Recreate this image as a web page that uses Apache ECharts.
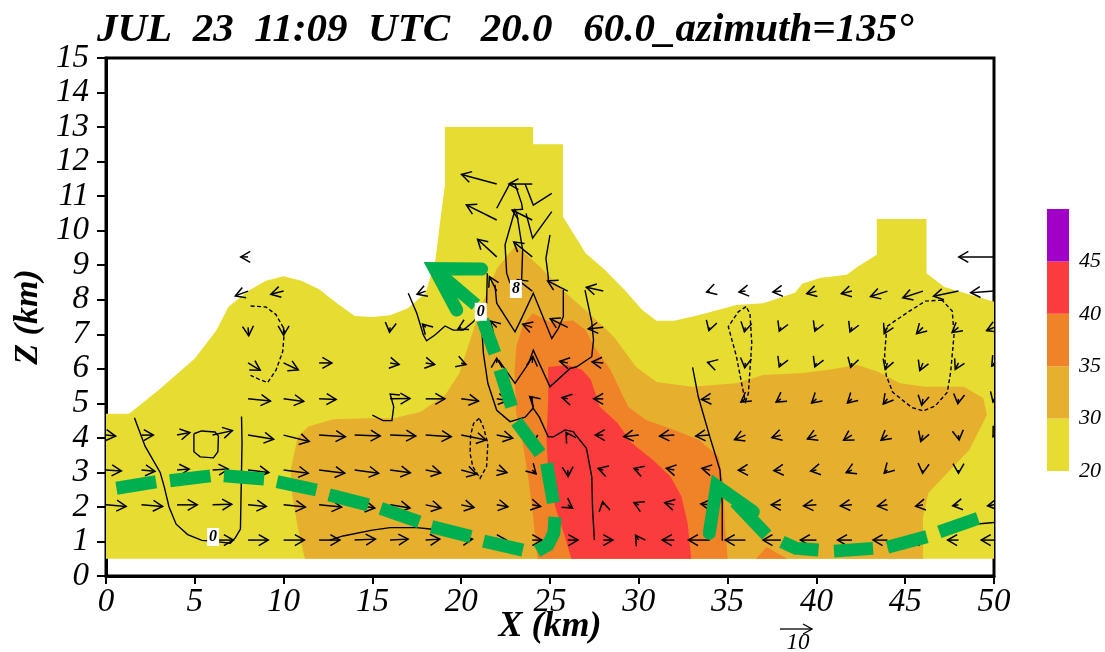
<!DOCTYPE html>
<html><head><meta charset="utf-8">
<style>html,body{margin:0;padding:0;background:#fff}#c{width:1105px;height:652px}</style>
<script src="https://cdn.jsdelivr.net/npm/echarts@6/dist/echarts.min.js"></script>
</head><body><div id="c"></div>
<script>
const titleText = 'JUL  23  11:09  UTC   20.0   60.0_azimuth=135°';
const xTicksMax = 50, zTicksMax = 15;
const legendLabels = ['20','30','35','40','45',''];
const legendColors = ['#e6dc32','#e6af2d','#f08228','#fa3c3c','#a000c8'];

// Reflectivity regions, [x km, z km]
const dbz20 = [[0,.5],[0,4.7],[1.3,4.7],[3,5.4],[5,6.3],[6.2,7.1],[6.9,7.8],[8,8.25],[9,8.55],[10,8.68],[11,8.55],[12,8.3],[13,7.9],[14,7.53],[15,7.5],[16,7.55],[17,7.75],[18,8.2],[18.55,9.15],[18.75,10],[18.95,10.8],[19.08,11.3],[19.08,13],[24.05,13],[24.05,12.5],[25.73,12.5],[25.73,10.4],[27,9.35],[28.1,8.86],[29.2,8.28],[30.2,7.7],[31,7.39],[32,7.39],[33.4,7.56],[35.5,7.85],[37,7.9],[38.8,8.2],[39.2,8.46],[40.2,8.63],[41.7,8.72],[42.3,8.95],[43.4,9.3],[43.4,10.34],[46.2,10.34],[46.2,8.77],[47.2,8.37],[48.3,8.2],[50,7.94],[50,.5]];
const dbz30 = [[11.2,.5],[10.8,1.4],[10.5,2.3],[10.4,3.07],[10.8,4.03],[11.4,4.33],[12.8,4.54],[14.8,4.57],[16.2,4.57],[17.7,4.75],[19.1,5.24],[19.9,5.87],[20.5,6.83],[21.2,7.9],[22,8.9],[23.07,9.58],[24.45,8.95],[25.7,8.28],[27.2,7.6],[28.2,7.12],[28.6,6.92],[29.85,6.05],[31,5.62],[33,5.48],[35.5,5.58],[37,5.82],[39.1,5.87],[40.7,5.97],[42.3,6.11],[43.5,5.91],[44.7,5.58],[46.1,5.48],[48.3,5.48],[49.4,5.15],[49.6,4.66],[48.6,3.65],[47.7,3.16],[46.3,2.4],[46,1.7],[46,.5]];
const dbz35 = [[24.3,.5],[24.05,1.7],[23.8,2.78],[23.5,3.74],[23.1,4.71],[23,5.87],[23.1,6.64],[23.5,7.3],[24.05,7.6],[25,7.35],[26.3,7.4],[27,7.12],[27.5,6.64],[28.4,5.97],[29.4,4.9],[30.4,4.52],[32,4.23],[33.4,3.94],[34.5,3.45],[34.75,2.69],[34.85,1.53],[35,.5]];
const dbz35b = [[36.6,.5],[37.2,.84],[38.35,.5]];
const dbz40 = [[26.2,.5],[25.8,1.2],[25.3,2],[24.9,3],[24.8,4],[24.9,5.1],[24.9,6.05],[26,6.11],[26.8,5.97],[27.3,5.68],[27.8,4.9],[28.8,4.43],[29.6,3.85],[30.8,3.36],[31.8,2.87],[32.4,2.3],[32.75,1.53],[32.95,.5]];

// Wind vectors by height row, each entry [x km, u m/s, w m/s]
const rowHeights = [1.04,2.06,3.07,4.08,5.13,6.17,7.2,8.25,9.24,10.31,11.35];
const wind1 = [[6,6.5,0],[8,6.3,0],[10,6.5,0],[12,6.5,0],[14,6.5,.3],[16,5.6,.3],[18,4.4,.3],[20,3.5,.3],[22,3,0],[24,3,0],[26,3.2,0],[28,3,0],[30,-1,1.5],[32,-3.8,0],[34,-6.7,0],[36,-6.3,0],[38,-5.6,0],[40,-5,0],[42,-4.5,0],[44,-4.5,0],[46,-4,0],[48,-3.4,0],[50,-4,0]];
const wind2 = [[0,6.3,-.5],[2,6.6,-.5],[4,6.3,0],[6,6,.2],[8,5.7,-.5],[10,6.8,-.7],[12,7,-.7],[14,6.3,-1],[16,6.2,-1],[18,4.8,-1],[20,4,-.8],[22,3.5,-.6],[24,2.6,-.5],[26,1.5,-1],[28,-.2,1],[30,-1.5,.7],[32,-3,.7],[34,-2.8,.3],[36,-3,0],[38,-3,0],[40,-4,-.3],[42,-3.6,-.3],[44,-3.1,-.4],[46,-2.3,-.4],[48,-1.8,-.3],[50,-2,-.3]];
const wind3 = [[0,4.8,-.3],[2,4.2,-.4],[4,3.8,.3],[6,4.9,.3],[8,6.5,-.8],[10,7.7,-1],[12,8,-1],[14,7.5,-1],[16,6.3,-.9],[18,4.7,-.9],[20,4.8,-1.3],[22,3.2,-.8],[24,1.2,-1.2],[26,.1,-2],[28,-1.6,.5],[30,-1.5,.5],[32,-2.5,.5],[34,-2.5,.5],[36,-2.2,-.1],[38,-2.2,-.2],[40,-1.8,-.3],[42,-1.8,-.8],[44,-1,-1],[46,-.1,-1],[48,0,-1]];
const wind4 = [[0,3,-.3],[2,3.7,0],[4,4,.8],[6,6.2,1.4],[8,8,-1.3],[10,8,-2],[12,8.2,-.5],[14,8,-.3],[16,8,-.3],[18,8,-.5],[20,7.8,-1.5],[22,5,-1],[24,.2,-3],[26,-.5,.8],[28,-2.5,0],[30,-4.7,-.5],[32,-4.6,-.3],[34,-4.4,-.3],[36,-3.4,-1.4],[38,-2.8,-.8],[40,-2.8,-1.2],[42,-2.6,-1.6],[44,-2,-1.6],[46,-.7,-2],[48,.2,-1.5],[50,-.3,-.5]];
const wind5 = [[8,7,-.7],[10,6.3,-.8],[12,5.3,-.2],[16,6.2,.1],[18,6,0],[20,5.4,-.7],[22,3.5,-.5],[24,-.8,.7],[26,-1.8,.4],[28,-3,0],[34,-2.6,-.2],[36,-1.4,-1],[38,-1.5,-1],[40,-1.5,-1.3],[42,-1.4,-1.3],[44,-1.3,-1.6],[46,-.4,-2],[48,-.2,-1.5],[50,-.3,-1]];
const wind6 = [[8,3.8,-2.3],[10,4.6,-2.2],[12,4,0],[16,2.8,-.5],[18,2.8,-.5],[20,1.5,-.5],[22,0,1.5],[24,.2,2],[26,-2.5,.5],[28,-3.5,.3],[34,-.7,.2],[36,-.2,-1.5],[38,-.5,-1.2],[40,-.5,-1.2],[42,-.4,-1.4],[44,-.7,-2],[46,-1,-2.4],[48,-1,-2],[50,-.7,-1]];
const wind7 = [[8,.2,-2.6],[10,0,-2.5],[16,-.2,-1.5],[18,-1,1],[20,-1,-.5],[22,-2,2],[24,-3,1],[26,-5.5,2.7],[28,-4.7,-.5],[34,-.3,-1],[36,-.3,-1.4],[38,-.5,-1.2],[40,-.5,-1.2],[42,-.6,-1.4],[44,-1,-2],[46,-2,-2],[48,-2,-1.6],[50,-2.3,-1]];
const wind8 = [[8,-4,-1.5],[10,-4,-1],[18,-2.7,-1],[22,-2.3,4.5],[24,-4.6,3.6],[26,-6.3,3.2],[28,-5.3,1.2],[34,-1,-.3],[36,-2,-.3],[38,-2.5,-.3],[40,-3,-.8],[42,-3.3,-.8],[44,-5.3,-1.7],[46,-6.3,-2.1],[48,-7.8,-1.6],[50,-7.3,-.5]];
const wind9 = [[8,-2.3,0],[22,-6,5.5],[24,-5.8,4.7],[50,-11,0]];
const wind10 = [[22,-9.5,4.7],[24,-6.3,3.1]];
const wind11 = [[22,-11,3],[24,-7.3,0]];
const windRows = [wind1,wind2,wind3,wind4,wind5,wind6,wind7,wind8,wind9,wind10,wind11];

// Contours
const contourA = [[1.6,4.58],[2.2,3.76],[3.05,3],[3.28,2.58],[3.55,2],[3.95,1.5],[4.6,1.2],[5.4,1.03],[5.95,1.01],[7,.95],[7.27,1.1],[7.57,1.36],[7.6,2.23],[7.66,3.85],[7.63,4.62]];
const contourB = [[4.95,4.12],[5.38,4.2],[6.14,4.17],[6.33,4.05],[6.3,3.6],[6.05,3.42],[5.3,3.45],[4.95,3.6],[4.95,4.12]];
const contourC = [[12.6,1.04],[13.35,1.16],[15,1.33],[16,1.4],[17.5,1.4],[18.25,1.36],[19.5,1.15]];
const contourE = [[15,4.66],[15.6,4.5],[16.1,4.5],[16.2,4.9],[16,5.27],[16.55,5.24]];
const contourG = [[21.47,8.77],[21.43,7.9],[21.1,7.65],[21.25,6.45],[21.5,5.58],[22,4.8],[22.75,4.47],[23.6,4.6],[24.05,4.86],[24.4,4.6],[24.9,4.03],[25.2,4.03],[25.85,4.23],[26.3,4.18],[27.05,3.7],[27.35,2.88],[27.4,1.91],[27.5,1.04]];
const contourG2 = [[24.05,4.86],[23.97,5.21]];
const contourH = [[22.1,6.26],[23.03,5.58],[23.8,6.16],[24.06,6.54],[25,5.48],[26.13,6.01],[26.5,6.06],[27.35,6.35],[27.45,6.83],[27.35,7.36],[26.97,8.28]];
const contourI = [[21.9,8.43],[22,7.9],[23.03,7.07],[23.4,7.46],[24.06,8.19],[25.1,6.88],[25.47,7.17],[25.75,7.51],[25.75,8.28]];
const contourK = [[22.75,8.48],[22.56,8.77],[22.47,9.59],[23.03,10.6],[23.13,10.5],[23.46,9.44],[23.4,8.52]];
const contourL = [[22,10.65],[22.75,11.37],[23.03,11.35],[23.4,10.79],[23.46,10.6]];
const contourM = [[23.6,11.35],[24.06,10.74],[25.1,11.08]];
const contourN = [[23.65,10.5],[24.02,9.78],[25.1,10.55]];
const contourO = [[25,9.88],[24.77,9.2],[24.9,8.67],[24.9,8.57]];
const contourQ = [[17.02,8.19],[17.5,7.61],[17.87,6.98],[18.05,6.81],[18.52,6.98],[19.09,7.24],[19.55,7.12],[20.12,7.12],[20.68,7.36],[21.1,7.65]];
const contourS = [[33.03,6.04],[33.35,5.19],[34,4.03],[34.57,3.07],[34.7,2.1],[34.7,1.02]];
const contourV = [[48.9,1.5],[50,1.55]];
const solidContours = [contourA,contourB,contourC,contourE,contourG,contourG2,contourH,contourI,contourK,contourL,contourM,contourN,contourO,contourQ,contourS,contourV];
const contourD = [[8.14,7.82],[9,7.79],[9.57,7.57],[10.05,7.13],[9.95,6.5],[9.57,5.96],[9.1,5.6],[8.6,5.7],[8.14,5.81]];
const contourF = [[21.02,4.57],[20.7,4.42],[20.53,4.08],[20.5,3.55],[20.65,3.17],[21.06,2.83],[21.43,3.17],[21.5,3.84],[21.24,4.32],[21.02,4.57]];
const contourT = [[36.04,7.8],[35.6,7.65],[35.04,7.22],[35.5,6.35],[35.9,5.29],[36,5.05],[36.17,5.29],[36.36,6.74],[36.26,7.6],[36.04,7.8]];
const contourU = [[47.07,7.99],[46.13,7.96],[45.18,7.65],[43.84,7.18],[43.93,6.98],[43.84,6.4],[43.93,5.81],[44.3,5.32],[45.37,4.88],[46.03,4.78],[46.7,4.93],[47.37,5.32],[47.56,5.91],[47.75,6.98],[47.65,7.67],[47.07,7.99]];
const dashedContours = [contourD,contourF,contourT,contourU];
const contourLabels = [[6.03,1.13,'0'],[21.1,7.65,'0'],[23.08,8.31,'8']];

// Hand-drawn green annotation
const greenDashes = [
 [[.59,2.54],[2.82,2.73]],[[3.6,2.76],[5.88,2.9]],[[6.64,2.9],[8.9,2.81]],[[9.63,2.73],[11.85,2.49]],
 [[12.56,2.35],[14.77,2.06]],[[15.47,1.96],[17.64,1.57]],[[18.33,1.43],[20.55,1.14]],[[21.26,1.01],[23.47,.75]],
 [[24.27,.72],[24.89,.9],[25.22,1.25],[25.28,1.71]],[[25.19,2.12],[25,2.68],[24.81,3.26]],[[24.44,3.55],[23.12,4.47]],
 [[22.84,4.9],[22.18,5.97]],[[21.9,6.45],[21.21,7.41]],
 [[19,8.65],[20.83,7.85]],[[35.42,2.15],[37.2,1.19]],
 [[38.06,.99],[38.87,.8],[40.12,.75]],[[40.99,.72],[43.19,.8]],[[44,.83],[46.22,1.14]],[[46.92,1.28],[49.1,1.67]]
];
const greenHeads = [
 [[21.15,8.89],[18.5,8.9],[19.75,7.7]],
 [[33.97,1.24],[34.38,2.61],[36.45,1.86]]
];

const reflectivity = [[dbz20,legendColors[0]],[dbz30,legendColors[1]],[dbz35,legendColors[2]],[dbz35b,legendColors[2]],[dbz40,legendColors[3]]];
const windPoints = [];
windRows.forEach((row,i)=>row.forEach(v=>windPoints.push([v[0],rowHeights[i],v[1],v[2]])));

const PX_PER_MS = 3.2, BARB = 11, BARB_ANGLE = 30*Math.PI/180;
const serif = '"Liberation Serif"';

function linesSeries(list, stylefn, z){
  return {type:'custom',coordinateSystem:'cartesian2d',xAxisIndex:0,yAxisIndex:0,z,silent:true,clip:true,
    data:list.map((_,i)=>[i]),
    renderItem:(p,api)=>({type:'polyline',shape:{points:list[p.dataIndex].map(q=>api.coord(q))},style:stylefn(p.dataIndex)})};
}
const bars = legendColors.map(c=>({type:'bar',stack:'bar',xAxisIndex:1,yAxisIndex:1,barWidth:'100%',data:[1],itemStyle:{color:c},silent:true}));

const option = {
  animation:false,
  backgroundColor:'#fff',
  title:{text:titleText,left:92,top:5,textStyle:{fontFamily:serif,fontStyle:'italic',fontWeight:'bold',fontSize:41,color:'#000'}},
  grid:[{left:106,right:111,top:58,bottom:76,show:true,borderColor:'#000',borderWidth:3,backgroundColor:'#fff',z:0,outerBoundsMode:'none'},
        {left:1047,top:209,width:22,height:262,outerBoundsMode:'none'}],
  xAxis:[{type:'value',gridIndex:0,min:0,max:xTicksMax,interval:5,splitLine:{show:false},
      axisLine:{show:true,onZero:false,lineStyle:{color:'#000',width:3}},
      axisTick:{show:true,length:8,lineStyle:{color:'#000',width:2}},
      axisLabel:{margin:10,fontFamily:serif,fontStyle:'italic',fontSize:33,color:'#000',hideOverlap:false,showMinLabel:true,showMaxLabel:true},
      name:'X (km)',nameLocation:'middle',nameGap:33,nameMoveOverlap:false,
      nameTextStyle:{fontFamily:serif,fontStyle:'italic',fontWeight:'bold',fontSize:36,color:'#000'}},
    {type:'category',gridIndex:1,data:[''],show:false}],
  yAxis:[{type:'value',gridIndex:0,min:0,max:zTicksMax,interval:1,splitLine:{show:false},
      axisLine:{show:true,onZero:false,lineStyle:{color:'#000',width:3}},
      axisTick:{show:true,length:9,lineStyle:{color:'#000',width:2}},
      axisLabel:{margin:17,fontFamily:serif,fontStyle:'italic',fontSize:33,color:'#000',showMinLabel:true,showMaxLabel:true},
      name:'Z (km)',nameLocation:'middle',nameGap:61,nameRotate:90,nameMoveOverlap:false,
      nameTextStyle:{fontFamily:serif,fontStyle:'italic',fontWeight:'bold',fontSize:34,color:'#000'}},
    {type:'value',gridIndex:1,min:0,max:5,interval:1,position:'right',splitLine:{show:false},axisLine:{show:false},axisTick:{show:false},
      axisLabel:{margin:10,fontFamily:serif,fontStyle:'italic',fontSize:22,color:'#000',formatter:(v)=>legendLabels[v]}}],
  series:[
    {type:'custom',coordinateSystem:'cartesian2d',xAxisIndex:0,yAxisIndex:0,z:1,silent:true,
      data:reflectivity.map((_,i)=>[i]),
      renderItem:(p,api)=>({type:'polygon',shape:{points:reflectivity[p.dataIndex][0].map(q=>api.coord(q))},style:{fill:reflectivity[p.dataIndex][1],stroke:null}})},
    linesSeries(solidContours,()=>({fill:null,stroke:'#000',lineWidth:1.4}),2),
    linesSeries(dashedContours,()=>({fill:null,stroke:'#000',lineWidth:1.4,lineDash:[4,2.5]}),2),
    {type:'custom',coordinateSystem:'cartesian2d',xAxisIndex:0,yAxisIndex:0,z:3,silent:true,clip:true,
      data:windPoints,
      renderItem:(p,api)=>{
        const t=api.coord([api.value(0),api.value(1)]), u=api.value(2), w=api.value(3);
        const h=[t[0]+u*PX_PER_MS,t[1]-w*PX_PER_MS];
        const a=Math.atan2(h[1]-t[1],h[0]-t[0]);
        const b1=[h[0]-BARB*Math.cos(a-BARB_ANGLE),h[1]-BARB*Math.sin(a-BARB_ANGLE)];
        const b2=[h[0]-BARB*Math.cos(a+BARB_ANGLE),h[1]-BARB*Math.sin(a+BARB_ANGLE)];
        const s={fill:null,stroke:'#000',lineWidth:1.5};
        return {type:'group',children:[
          {type:'polyline',shape:{points:[t,h]},style:s},
          {type:'polyline',shape:{points:[b1,h,b2]},style:s}]};
      }},
    linesSeries(greenDashes,()=>({fill:null,stroke:'#00b050',lineWidth:13,lineCap:'butt',lineJoin:'round'}),4),
    linesSeries(greenHeads,()=>({fill:null,stroke:'#00b050',lineWidth:13,lineCap:'round',lineJoin:'miter',miterLimit:10}),4),
    {type:'custom',coordinateSystem:'cartesian2d',xAxisIndex:0,yAxisIndex:0,z:5,silent:true,
      data:contourLabels,
      renderItem:(p,api)=>{
        const c=api.coord([contourLabels[p.dataIndex][0],contourLabels[p.dataIndex][1]]);
        return {type:'group',children:[
          {type:'rect',shape:{x:c[0]-6,y:c[1]-9,width:12,height:18},style:{fill:'#fff'}},
          {type:'text',x:c[0],y:c[1],style:{text:contourLabels[p.dataIndex][2],align:'center',verticalAlign:'middle',fontFamily:serif,fontStyle:'italic',fontWeight:'bold',fontSize:16,fill:'#000'}}]};
      }},
    ...bars
  ],
  graphic:[
    {type:'polyline',shape:{points:[[780,629],[812,629]]},style:{stroke:'#000',lineWidth:1.3,fill:null},silent:true},
    {type:'polyline',shape:{points:[[803,624],[812,629],[803,634]]},style:{stroke:'#000',lineWidth:1.3,fill:null},silent:true},
    {type:'text',x:798,y:643,style:{text:'10',align:'center',verticalAlign:'middle',fontFamily:serif,fontStyle:'italic',fontSize:23,fill:'#000'},silent:true}
  ]
};
echarts.init(document.getElementById('c')).setOption(option);
</script></body></html>
